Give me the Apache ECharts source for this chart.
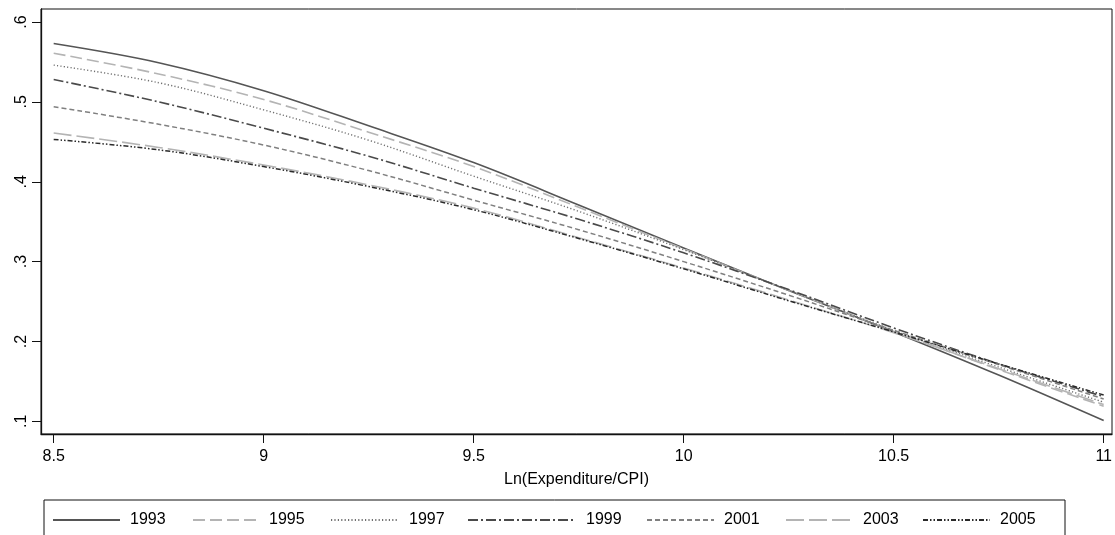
<!DOCTYPE html>
<html>
<head>
<meta charset="utf-8">
<script src="https://cdn.jsdelivr.net/npm/echarts@6/dist/echarts.min.js"></script>
<style>
html,body{margin:0;padding:0;background:#fff;}
#chart{width:1115px;height:535px;}
</style>
</head>
<body>
<div id="chart"></div>
<script>
// ---- data ----
const xValues = [8.5, 8.75, 9, 9.25, 9.5, 9.75, 10, 10.25, 10.5, 10.75, 11];
const years = ['1993', '1995', '1997', '1999', '2001', '2003', '2005'];
const y1993 = [0.573, 0.549, 0.514, 0.470, 0.424, 0.371, 0.317, 0.264, 0.212, 0.158, 0.101];
const y1995 = [0.561, 0.535, 0.503, 0.462, 0.419, 0.368, 0.316, 0.264, 0.213, 0.165, 0.119];
const y1997 = [0.546, 0.524, 0.490, 0.452, 0.407, 0.363, 0.315, 0.264, 0.214, 0.168, 0.124];
const y1999 = [0.528, 0.500, 0.467, 0.432, 0.392, 0.353, 0.311, 0.265, 0.217, 0.172, 0.131];
const y2001 = [0.494, 0.472, 0.446, 0.414, 0.377, 0.340, 0.300, 0.258, 0.214, 0.171, 0.128];
const y2003 = [0.461, 0.443, 0.421, 0.396, 0.367, 0.330, 0.292, 0.252, 0.211, 0.166, 0.121];
const y2005 = [0.453, 0.440, 0.419, 0.394, 0.365, 0.329, 0.291, 0.251, 0.212, 0.172, 0.133];
const seriesValues = [y1993, y1995, y1997, y1999, y2001, y2003, y2005];
const xTicks = [8.5, 9, 9.5, 10, 10.5, 11];
const yTicks = [0.1, 0.2, 0.3, 0.4, 0.5, 0.6];
const xTitle = 'Ln(Expenditure/CPI)';

// ---- styles ----
const styles = [
  {color: '#555555', type: 'solid', width: 1.6},
  {color: '#b4b4b4', type: [12, 5], width: 1.6},
  {color: '#707070', type: [1.2, 2.2], width: 1.4},
  {color: '#4a4a4a', type: [10, 3, 2, 3], width: 1.6},
  {color: '#808080', type: [5, 3], width: 1.5},
  {color: '#b4b4b4', type: [18, 5], width: 1.6},
  {color: '#2a2a2a', type: [5, 2, 1.5, 2, 1.5, 2], width: 1.5}
];
const legendLeft = [52, 192, 330, 467, 646, 785, 922];
const legendW = [67, 66, 68, 108, 67, 67, 67];

const chart = echarts.init(document.getElementById('chart'));
const fmt = v => {
  const s = (Math.round(v * 10) / 10).toString();
  return s.replace(/^0\./, '.');
};

const option = {
  animation: false,
  backgroundColor: '#ffffff',
  textStyle: {fontFamily: 'Liberation Sans, Arial, sans-serif', color: '#000'},
  grid: {left: 41, right: 3, top: 9, bottom: 101, show: true, borderColor: '#111', borderWidth: 1},
  xAxis: {
    type: 'value',
    min: 8.4698, max: 11.0198,
    name: xTitle,
    nameLocation: 'middle',
    nameGap: 38,
    nameTextStyle: {fontSize: 16, color: '#000', fontFamily: 'Liberation Sans, Arial, sans-serif'},
    axisLine: {show: true, onZero: false, lineStyle: {color: '#111', width: 1.3}},
    axisTick: {show: true, length: 9, customValues: xTicks, lineStyle: {color: '#111', width: 1}},
    axisLabel: {customValues: xTicks, fontSize: 16, color: '#000', margin: 15,
      formatter: v => String(v)},
    splitLine: {show: false}
  },
  yAxis: {
    type: 'value',
    min: 0.0842, max: 0.6163,
    axisLine: {show: true, onZero: false, lineStyle: {color: '#111', width: 1.3}},
    axisTick: {show: true, length: 9, customValues: yTicks, lineStyle: {color: '#111', width: 1}},
    axisLabel: {customValues: yTicks, fontSize: 16, color: '#000', margin: 11, rotate: 90,
      formatter: v => fmt(v)},
    splitLine: {show: false}
  },
  legend: years.map((y, i) => ({
    data: [y],
    left: legendLeft[i],
    top: 512,
    itemWidth: legendW[i],
    itemHeight: 14,
    itemGap: 0,
    padding: 0,
    selectedMode: false,
    itemStyle: {opacity: 0, borderWidth: 0},
    textStyle: {fontSize: 16, color: '#000', padding: [0, 0, 0, 5], fontFamily: 'Liberation Sans, Arial, sans-serif'}
  })),
  graphic: [{
    type: 'rect',
    shape: {x: 44, y: 500, width: 1021, height: 60},
    style: {fill: 'none', stroke: '#111', lineWidth: 1},
    silent: true
  }],
  series: years.map((y, i) => ({
    name: y,
    type: 'line',
    smooth: 0.35,
    symbol: 'none',
    showSymbol: false,
    lineStyle: {color: styles[i].color, type: styles[i].type, width: styles[i].width},
    itemStyle: {color: styles[i].color},
    data: xValues.map((x, j) => [x, seriesValues[i][j]])
  }))
};
chart.setOption(option);
</script>
</body>
</html>
